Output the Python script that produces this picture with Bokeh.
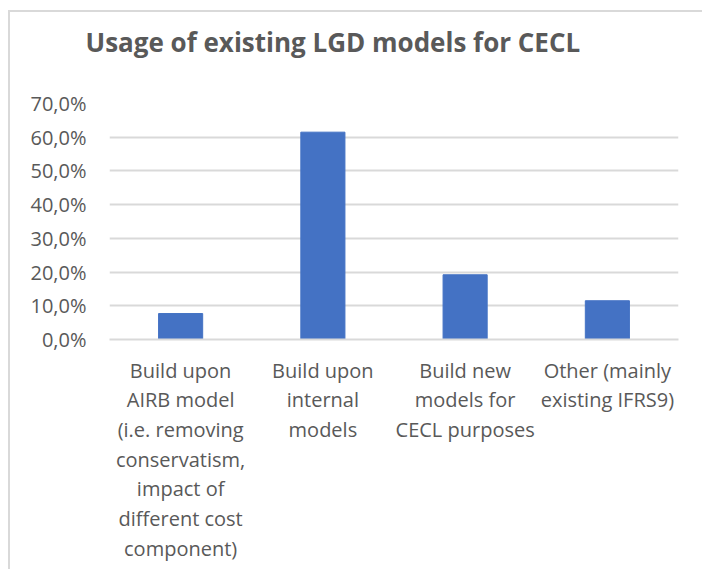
from bokeh.plotting import figure
from bokeh.models import Range1d, FixedTicker, ColumnDataSource, Title
from bokeh.embed import file_html
from bokeh.resources import INLINE

# Data
categories = [
    "Build upon\nAIRB model\n(i.e. removing\nconservatism,\nimpact of\ndifferent cost\ncomponent)",
    "Build upon\ninternal\nmodels",
    "Build new\nmodels for\nCECL purposes",
    "Other (mainly\nexisting IFRS9)",
]
shares = [0.077, 0.615, 0.192, 0.115]
y_ticks = [0.0, 0.1, 0.2, 0.3, 0.4, 0.5, 0.6, 0.7]
y_tick_labels = ["0,0%", "10,0%", "20,0%", "30,0%", "40,0%", "50,0%", "60,0%", "70,0%"]
title_text = "Usage of existing LGD models for CECL"

TEXT = "#595959"
GRID = "#d9d9d9"
BAR = "#4472C4"

src = ColumnDataSource(dict(cat=categories, val=shares))

p = figure(
    x_range=categories,
    y_range=Range1d(0, 0.7),
    width=694, height=559,
    output_backend="svg", toolbar_location=None,
    min_border_left=99, min_border_right=26,
    min_border_top=91, min_border_bottom=232,
)

p.vbar(x="cat", top="val", width=0.31, source=src, fill_color=BAR, line_color=BAR, line_width=1)

p.title.text = title_text
p.title.text_font = "Open Sans"
p.title.text_font_style = "bold"
p.title.text_font_size = "26px"
p.title.text_color = TEXT
p.title.align = "left"
p.title.offset = -24
p.title.standoff = 4

# empty spacer between the title and the plot area
spacer = Title(text=" ", text_font_size="1px", standoff=39)
p.add_layout(spacer, "above")

p.outline_line_color = None
p.background_fill_color = "white"
p.border_fill_color = "white"

# y axis
p.yaxis.ticker = FixedTicker(ticks=y_ticks)
p.yaxis.major_label_overrides = {t: l for t, l in zip(y_ticks, y_tick_labels)}
p.yaxis.axis_line_color = None
p.yaxis.major_tick_line_color = None
p.yaxis.minor_tick_line_color = None
p.yaxis.major_tick_out = 0
p.yaxis.major_tick_in = 0
p.yaxis.major_label_standoff = 23
p.yaxis.major_label_text_font = "Open Sans"
p.yaxis.major_label_text_font_size = "20px"
p.yaxis.major_label_text_color = TEXT

# x axis
p.xaxis.axis_line_color = GRID
p.xaxis.axis_line_width = 2
p.xaxis.major_tick_line_color = None
p.xaxis.major_tick_out = 0
p.xaxis.major_tick_in = 0
p.xaxis.major_label_standoff = 17
p.xaxis.major_label_text_font = "Open Sans"
p.xaxis.major_label_text_font_size = "20px"
p.xaxis.major_label_text_color = TEXT
p.xaxis.major_label_text_line_height = 1.1

p.xgrid.grid_line_color = None
p.ygrid.grid_line_color = GRID
p.ygrid.grid_line_width = 2

p.styles = {
    "margin-left": "8px",
    "margin-top": "10px",
    "border-left": "2px solid #d9d9d9",
    "border-top": "2px solid #d9d9d9",
}

open("out.html", "w").write(file_html(p, INLINE))
